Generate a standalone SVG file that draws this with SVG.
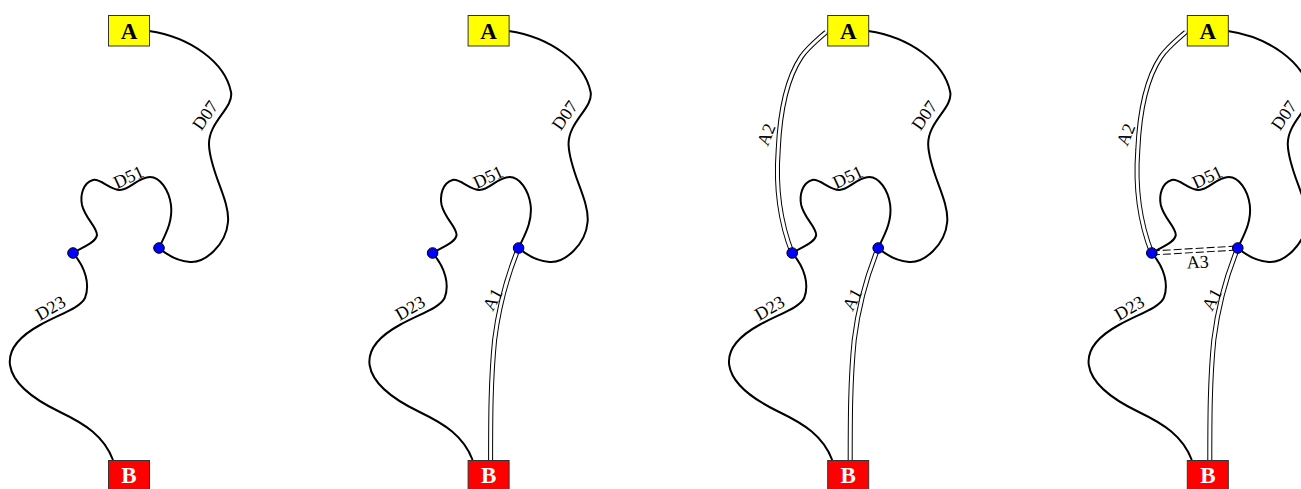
<svg xmlns="http://www.w3.org/2000/svg" width="1301" height="489" viewBox="0 0 1301 489">
<style>
.e{fill:none;stroke:#000;stroke-width:2}
.o{fill:none;stroke:#000;stroke-width:5}
.od{fill:none;stroke:#000;stroke-width:5;stroke-dasharray:8,3}
.i{fill:none;stroke:#fff;stroke-width:3}
.l{font-family:"Liberation Serif","Times New Roman",serif;font-size:18px;text-anchor:middle;fill:#000}
.bx{stroke:#333;stroke-width:1}
.nt{font-family:"Liberation Serif","Times New Roman",serif;font-size:23px;font-weight:bold;text-anchor:middle}
.dot{fill:#0000ff;stroke:#000;stroke-width:1}
</style>
<rect width="1301" height="489" fill="#fff"/>
<defs>
<path id="pD07" d="M149,31 C190,37 225,62 231,92 C234,108 208,122 209,145 C210,172 230,200 228,222 C226,245 205,263 190,262 C176,261 166,254 159,248"/>
<path id="pD51" d="M159,248 C165,235 173,222 171,205 C169,190 160,177 150,177 C138,177 130,190 120,190 C110,190 100,178 93,180 C83,183 80,195 82,205 C85,218 97,227 97,235 C96,242 85,246 73,253"/>
<path id="pD23" d="M73,253 C86,268 90,285 85,298 C80,308 60,314 40,325 C20,336 8,350 10,365 C13,385 35,400 60,412 C85,424 104,436 113,460"/>
<path id="pA1" d="M159,248 C150,270 140,300 135,340 C131,380 131,420 131,462"/>
<path id="pA2" d="M107,32 C98,40 88,48 82,57 C70,75 61,105 59,150 C56,190 62,225 73,253"/>
<path id="pA3" d="M73,253 L159,248"/>
</defs>
<g id="connectors">
<g id="p1-edges">
<use href="#pD07" class="e"/><use href="#pD51" class="e"/><use href="#pD23" class="e"/>
</g>
<g id="p2-edges" transform="translate(359.6,0)">
<use href="#pD07" class="e"/><use href="#pD51" class="e"/><use href="#pD23" class="e"/>
<use href="#pA1" class="o"/><use href="#pA1" class="i"/>
</g>
<g id="p3-edges" transform="translate(719.2,0)">
<use href="#pD07" class="e"/><use href="#pD51" class="e"/><use href="#pD23" class="e"/>
<use href="#pA1" class="o"/><use href="#pA1" class="i"/>
<use href="#pA2" class="o"/><use href="#pA2" class="i"/>
</g>
<g id="p4-edges" transform="translate(1078.8,0)">
<use href="#pD07" class="e"/><use href="#pD51" class="e"/><use href="#pD23" class="e"/>
<use href="#pA1" class="o"/><use href="#pA1" class="i"/>
<use href="#pA2" class="o"/><use href="#pA2" class="i"/>
<use href="#pA3" class="od"/><use href="#pA3" class="i"/>
</g>
</g>
<g id="labels">
<g transform="translate(0,0)">
<text class="l" transform="translate(206,116) rotate(-55)" y="5">D07</text>
<text class="l" transform="translate(129,178) rotate(-25)" y="5">D51</text>
<text class="l" transform="translate(51,309) rotate(-30)" y="5">D23</text>
</g>
<g transform="translate(359.6,0)">
<text class="l" transform="translate(206,116) rotate(-55)" y="5">D07</text>
<text class="l" transform="translate(129,178) rotate(-25)" y="5">D51</text>
<text class="l" transform="translate(51,309) rotate(-30)" y="5">D23</text>
<text class="l" transform="translate(134,300) rotate(-62)" y="5">A1</text>
</g>
<g transform="translate(719.2,0)">
<text class="l" transform="translate(206,116) rotate(-55)" y="5">D07</text>
<text class="l" transform="translate(129,178) rotate(-25)" y="5">D51</text>
<text class="l" transform="translate(51,309) rotate(-30)" y="5">D23</text>
<text class="l" transform="translate(134,300) rotate(-62)" y="5">A1</text>
<text class="l" transform="translate(48,135) rotate(-68)" y="5">A2</text>
</g>
<g transform="translate(1078.8,0)">
<text class="l" transform="translate(206,116) rotate(-55)" y="5">D07</text>
<text class="l" transform="translate(129,178) rotate(-25)" y="5">D51</text>
<text class="l" transform="translate(51,309) rotate(-30)" y="5">D23</text>
<text class="l" transform="translate(134,300) rotate(-62)" y="5">A1</text>
<text class="l" transform="translate(48,135) rotate(-68)" y="5">A2</text>
<text class="l" transform="translate(119,263) rotate(-3)" y="5">A3</text>
</g>
</g>
<g id="p1">
<g id="p1-A"><rect class="bx" x="108.5" y="15.5" width="41" height="30.5" fill="#ffff00"/><text class="nt" x="129" y="39">A</text></g>
<g id="p1-B"><rect class="bx" x="108.5" y="460.5" width="41" height="30" fill="#ff0000"/><text class="nt" x="129" y="482.5" fill="#fff">B</text></g>
<g id="p1-n1"><circle class="dot" cx="73" cy="253" r="5.3"/></g>
<g id="p1-n2"><circle class="dot" cx="159" cy="248" r="5.3"/></g>
</g>
<g id="p2" transform="translate(359.6,0)">
<g id="p2-A"><rect class="bx" x="108.5" y="15.5" width="41" height="30.5" fill="#ffff00"/><text class="nt" x="129" y="39">A</text></g>
<g id="p2-B"><rect class="bx" x="108.5" y="460.5" width="41" height="30" fill="#ff0000"/><text class="nt" x="129" y="482.5" fill="#fff">B</text></g>
<g id="p2-n1"><circle class="dot" cx="73" cy="253" r="5.3"/></g>
<g id="p2-n2"><circle class="dot" cx="159" cy="248" r="5.3"/></g>
</g>
<g id="p3" transform="translate(719.2,0)">
<g id="p3-A"><rect class="bx" x="108.5" y="15.5" width="41" height="30.5" fill="#ffff00"/><text class="nt" x="129" y="39">A</text></g>
<g id="p3-B"><rect class="bx" x="108.5" y="460.5" width="41" height="30" fill="#ff0000"/><text class="nt" x="129" y="482.5" fill="#fff">B</text></g>
<g id="p3-n1"><circle class="dot" cx="73" cy="253" r="5.3"/></g>
<g id="p3-n2"><circle class="dot" cx="159" cy="248" r="5.3"/></g>
</g>
<g id="p4" transform="translate(1078.8,0)">
<g id="p4-A"><rect class="bx" x="108.5" y="15.5" width="41" height="30.5" fill="#ffff00"/><text class="nt" x="129" y="39">A</text></g>
<g id="p4-B"><rect class="bx" x="108.5" y="460.5" width="41" height="30" fill="#ff0000"/><text class="nt" x="129" y="482.5" fill="#fff">B</text></g>
<g id="p4-n1"><circle class="dot" cx="73" cy="253" r="5.3"/></g>
<g id="p4-n2"><circle class="dot" cx="159" cy="248" r="5.3"/></g>
</g>
</svg>
